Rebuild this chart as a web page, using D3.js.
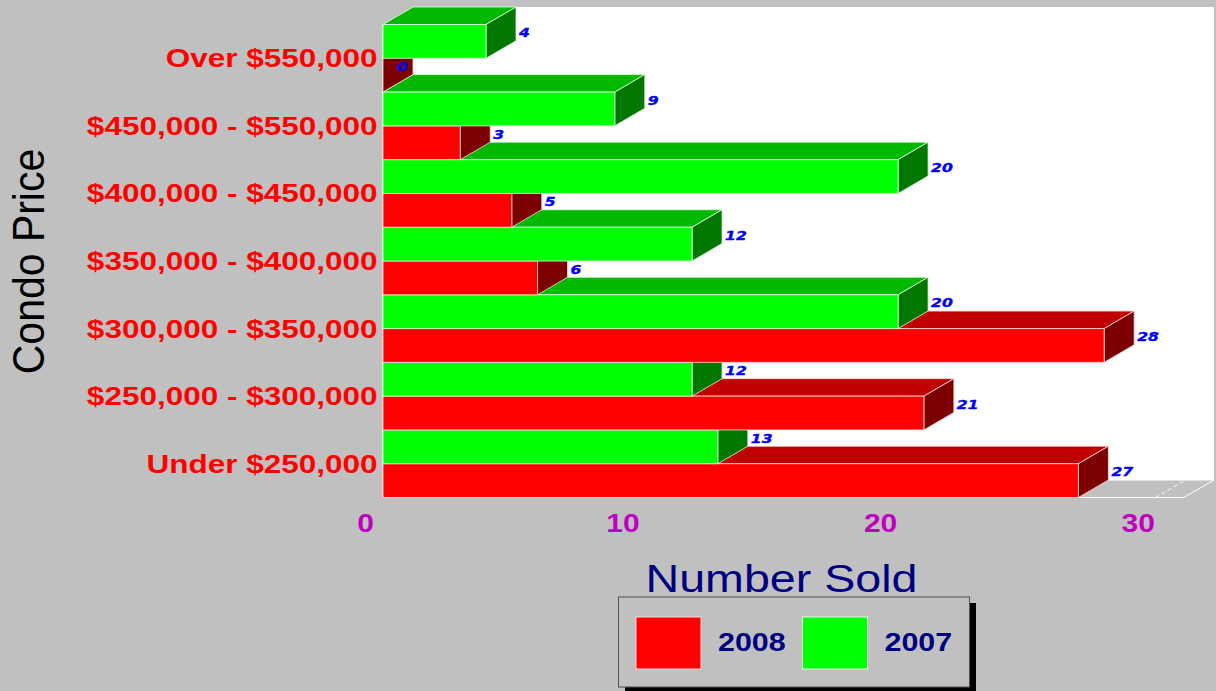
<!DOCTYPE html>
<html>
<head>
<meta charset="utf-8">
<script src="https://cdn.jsdelivr.net/npm/d3@7"></script>
<style>
  body { margin: 0; background: #c0c0c0; }
  svg { display: block; }
</style>
</head>
<body>
<div id="bar_chart"></div>
<script>

// data, top category first
var categories = ["Over $550,000", "$450,000 - $550,000", "$400,000 - $450,000",
  "$350,000 - $400,000", "$300,000 - $350,000", "$250,000 - $300,000", "Under $250,000"];
var series = ["2008", "2007"];
var sold_2008 = [0, 3, 5, 6, 28, 21, 27];
var sold_2007 = [4, 9, 20, 12, 20, 12, 13];
var x_ticks = [0, 10, 20, 30];

var width = 1216, height = 691;
var dx = 30, dy = -17.5;   // depth of the 3d look

var colors = {
  "2008": { front: "#ff0000", top: "#c00000", side: "#7c0000", edge: "#ffd8d8" },
  "2007": { front: "#00ff00", top: "#00b800", side: "#007800", edge: "#e0ffe0" }
};

var svg = d3.select('#bar_chart')
  .append('svg')
    .attr('width', width)
    .attr('height', height);

svg.append('rect')
  .attr('width', width)
  .attr('height', height)
  .attr('fill', '#c0c0c0');

//scales
var x = d3.scaleLinear()
  .domain([0, 31.1])
  .range([383, 1184]);

var y = d3.scaleBand()
  .domain(categories)
  .range([24.5, 497.5]);

var y1 = d3.scaleBand()
  .domain(["2007", "2008"])
  .range([0, y.bandwidth()]);

var x0 = x(0), xmax = x.range()[1];
var ytop = y.range()[0], ybot = y.range()[1];

function pts(a) { return a.map(function(p) { return p.join(','); }).join(' '); }

// back wall + left wall
svg.append('polygon')
  .attr('points', pts([[x0, ytop], [x0 + dx, ytop + dy], [xmax + dx, ytop + dy],
    [xmax + dx, ybot + dy], [xmax, ybot], [x0, ybot]]))
  .attr('fill', '#ffffff');

// floor
svg.append('polygon')
  .attr('points', pts([[x0, ybot], [x0 + dx, ybot + dy], [xmax + dx, ybot + dy], [xmax, ybot]]))
  .attr('fill', '#c0c0c0')
  .attr('stroke', '#ffffff')
  .attr('stroke-width', 1);

svg.selectAll('.floor_grid')
  .data(x_ticks.slice(1))
  .enter().append('line')
  .attr('class', 'floor_grid')
  .attr('x1', function(d) { return x(d); })
  .attr('y1', ybot)
  .attr('x2', function(d) { return x(d) + dx; })
  .attr('y2', ybot + dy)
  .attr('stroke', '#ffffff')
  .attr('stroke-dasharray', '4,3');

svg.append('line')
  .attr('x1', x0).attr('y1', ytop)
  .attr('x2', x0).attr('y2', ybot)
  .attr('stroke', '#ffffff');

// bars, painted from the bottom category up, red before green
var bars = [];
for (var i = categories.length - 1; i >= 0; i--) {
  bars.push({ cat: categories[i], series: "2008", value: sold_2008[i] });
  bars.push({ cat: categories[i], series: "2007", value: sold_2007[i] });
}

var bar_g = svg.selectAll('.bar3d')
  .data(bars)
  .enter().append('g')
  .attr('class', 'bar3d');

bar_g.each(function(d) {
  var g = d3.select(this);
  var c = colors[d.series];
  var yt = y(d.cat) + y1(d.series);
  var yb = yt + y1.bandwidth();
  var x1 = x(d.value);

  g.append('polygon')
    .attr('points', pts([[x0, yt], [x0 + dx, yt + dy], [x1 + dx, yt + dy], [x1, yt]]))
    .attr('fill', c.top)
    .attr('stroke', c.edge).attr('stroke-width', 1).attr('stroke-opacity', 0.8);

  g.append('polygon')
    .attr('points', pts([[x1, yt], [x1 + dx, yt + dy], [x1 + dx, yb + dy], [x1, yb]]))
    .attr('fill', c.side)
    .attr('stroke', c.edge).attr('stroke-width', 1).attr('stroke-opacity', 0.8);

  g.append('rect')
    .attr('x', x0)
    .attr('y', yt)
    .attr('width', x1 - x0)
    .attr('height', yb - yt)
    .attr('fill', c.front)
    .attr('stroke', c.edge).attr('stroke-width', 1).attr('stroke-opacity', 0.8);

  // value label next to the side face
  var lx = d.value === 0 ? x1 + dx / 2 - 1 : x1 + dx + 3;
  var ly = (yt + yb) / 2 + dy / 2 + 4.5;
  g.append('text')
    .attr('transform', 'translate(' + lx + ',' + ly + ') scale(1.2,1)')
    .style('font-family', 'DejaVu Sans')
    .style('font-weight', 'bold')
    .style('font-style', 'italic')
    .style('font-size', '13px')
    .attr('fill', '#0000ff')
    .attr('stroke', '#0000ff')
    .attr('stroke-width', 0.4)
    .text(d.value);
});

// category labels
svg.selectAll('.cat_label')
  .data(categories)
  .enter().append('text')
  .attr('class', 'cat_label')
  .attr('transform', function(d) {
    return 'translate(377.5,' + (y(d) + y.bandwidth() / 2 + 9) + ') scale(1.26,1)';
  })
  .style('text-anchor', 'end')
  .style('font-family', 'Liberation Sans, Arial')
  .style('font-weight', 'bold')
  .style('font-size', '25px')
  .attr('fill', '#ff0000')
  .text(function(d) { return d; });

// x tick labels
svg.selectAll('.x_tick')
  .data(x_ticks)
  .enter().append('text')
  .attr('class', 'x_tick')
  .attr('transform', function(d) { return 'translate(' + (x(d) - 17.5) + ',532) scale(1.2,1)'; })
  .style('text-anchor', 'middle')
  .style('font-family', 'Liberation Sans, Arial')
  .style('font-weight', 'bold')
  .style('font-size', '25px')
  .attr('fill', '#c000c0')
  .text(function(d) { return d; });

// x axis text
svg.append('text')
  .attr('transform', 'translate(781.5,592) scale(1.18,1)')
  .style('text-anchor', 'middle')
  .style('font-family', 'Liberation Sans, Arial')
  .style('font-size', '39.5px')
  .attr('fill', '#000080')
  .text('Number Sold');

// y axis text
svg.append('text')
  .attr('transform', 'translate(44,261.5) scale(1.1,1) rotate(-90)')
  .style('text-anchor', 'middle')
  .style('font-family', 'Liberation Sans, Arial')
  .style('font-size', '41px')
  .attr('fill', '#000000')
  .text('Condo Price');

// legend
var legend = svg.append('g');

legend.append('rect')
  .attr('x', 625).attr('y', 603)
  .attr('width', 351).attr('height', 90)
  .attr('fill', '#000000');

legend.append('rect')
  .attr('x', 618.5).attr('y', 597)
  .attr('width', 351).attr('height', 90)
  .attr('fill', '#c0c0c0')
  .attr('stroke', '#505050')
  .attr('stroke-width', 1);

var leg_items = legend.selectAll('.leg_item')
  .data(series)
  .enter().append('g')
  .attr('class', 'leg_item')
  .attr('transform', function(d, i) { return 'translate(' + (636 + i * 166.5) + ',617)'; });

leg_items.append('rect')
  .attr('width', 65)
  .attr('height', 52)
  .attr('fill', function(d) { return colors[d].front; })
  .attr('stroke', function(d) { return colors[d].edge; })
  .attr('stroke-width', 1);

leg_items.append('text')
  .attr('transform', 'translate(82,34) scale(1.17,1)')
  .style('font-family', 'Liberation Sans, Arial')
  .style('font-weight', 'bold')
  .style('font-size', '26px')
  .attr('fill', '#000080')
  .text(function(d) { return d; });

</script>
</body>
</html>
